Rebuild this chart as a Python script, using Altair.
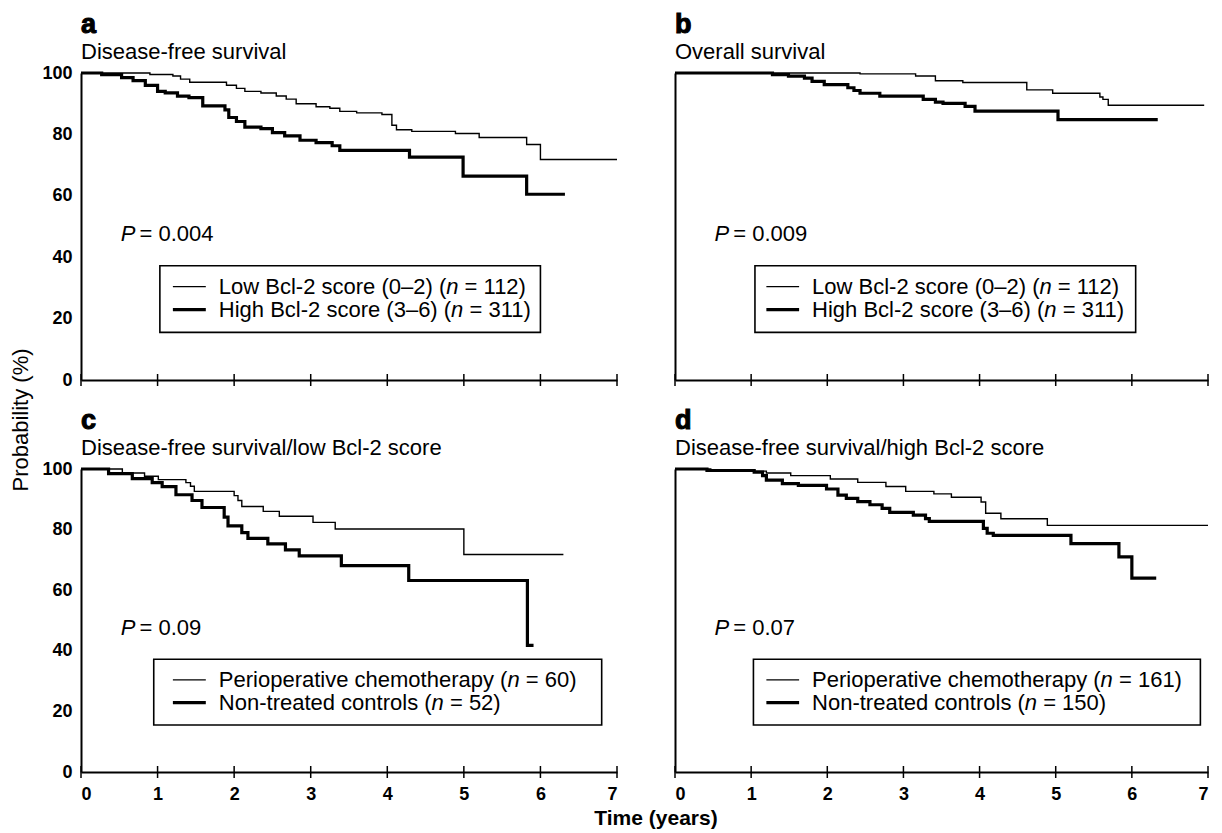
import altair as alt
import pandas as pd

FONT = "Liberation Sans"

YEAR_TICKS = [0, 1, 2, 3, 4, 5, 6, 7]
PROB_TICKS = [0, 20, 40, 60, 80, 100]

# ---- panel a: disease-free survival by Bcl-2 score ----
a_low_t = [0, 0.9, 1.2, 1.3, 1.42, 1.9, 2.03, 2.14, 2.35, 2.55, 2.68, 2.81, 3.07, 3.25, 3.38, 3.6, 3.93, 4.06, 4.12, 4.32, 4.89, 5.2, 5.82, 6.0, 7.0]
a_low_s = [100, 99.5, 99, 98, 97, 96, 95, 94, 93.5, 92.5, 91.5, 90, 89, 88.5, 87.5, 87, 86.5, 83, 81.5, 81, 80.3, 79, 76.7, 71.8, 71.8]
a_high_t = [0, 0.27, 0.53, 0.68, 0.84, 1.0, 1.1, 1.26, 1.41, 1.59, 1.88, 1.93, 2.03, 2.14, 2.35, 2.5, 2.66, 2.86, 3.07, 3.28, 3.38, 4.29, 4.99, 5.82, 6.32]
a_high_s = [100, 99.5, 98.5, 97.5, 96, 94, 93.5, 92.5, 92, 89.3, 88, 85.5, 84.2, 82.4, 81.9, 80.6, 79.5, 78.1, 77.3, 76.3, 74.8, 72.6, 66.4, 60.5, 60.5]

# ---- panel b: overall survival by Bcl-2 score ----
b_low_t = [0, 2.43, 3.16, 3.42, 3.78, 4.62, 4.96, 5.58, 5.62, 5.69, 6.95]
b_low_s = [100, 99.7, 99, 97.5, 96.9, 94.5, 93.4, 92.2, 91.4, 89.5, 89.5]
b_high_t = [0, 1.28, 1.49, 1.7, 1.8, 1.96, 2.27, 2.35, 2.43, 2.69, 3.26, 3.42, 3.52, 3.81, 3.94, 5.03, 6.34]
b_high_s = [100, 99.5, 99, 98.3, 97.3, 96.2, 95.2, 94.3, 93.4, 92.5, 91.4, 90.5, 90.1, 89.1, 87.6, 84.8, 84.8]

# ---- panel c: DFS, low Bcl-2 score ----
c_chemo_t = [0, 0.54, 0.83, 1.01, 1.37, 1.43, 1.48, 2.0, 2.05, 2.1, 2.38, 2.59, 3.03, 3.32, 5.0, 6.3]
c_chemo_s = [100, 98.7, 97.6, 96.5, 95.5, 94.3, 92.6, 91.2, 89.6, 87.6, 86, 84.4, 82.4, 80.2, 71.8, 71.8]
c_ctrl_t = [0, 0.36, 0.67, 0.93, 1.06, 1.24, 1.45, 1.58, 1.87, 1.92, 2.1, 2.18, 2.44, 2.67, 2.85, 3.4, 4.28, 5.83, 5.91]
c_ctrl_s = [100, 98.5, 96.8, 95.5, 94.2, 91.5, 89.6, 87.3, 84.1, 81.2, 79, 77.1, 75.3, 73.3, 71.3, 68.1, 63.2, 41.8, 41.8]

# ---- panel d: DFS, high Bcl-2 score ----
d_chemo_t = [0, 0.47, 1.04, 1.2, 1.52, 2.04, 2.4, 2.77, 3.03, 3.4, 3.63, 4.02, 4.08, 4.28, 4.89, 7.0]
d_chemo_s = [100, 99.7, 99.3, 98.7, 97.8, 96.7, 95.6, 94.2, 92.6, 91.8, 90.7, 89.1, 85.4, 83.6, 81.4, 81.4]
d_ctrl_t = [0, 0.42, 1.04, 1.15, 1.2, 1.41, 1.62, 1.99, 2.14, 2.25, 2.4, 2.56, 2.72, 2.82, 3.13, 3.29, 3.34, 4.05, 4.1, 4.18, 5.2, 5.83, 6.0, 6.32]
d_ctrl_s = [100, 99.5, 99, 97.8, 96.3, 95.2, 94.6, 93.4, 91.4, 90.3, 89.2, 88.2, 87, 85.7, 84.8, 83.6, 82.7, 80.4, 78.8, 78.1, 75.4, 71, 64, 64]

LETTERS = ["a", "b", "c", "d"]
SUBTITLES = ["Disease-free survival", "Overall survival",
             "Disease-free survival/low Bcl-2 score", "Disease-free survival/high Bcl-2 score"]
PVALUES = ["= 0.004", "= 0.009", "= 0.09", "= 0.07"]
LEGEND_LABELS = [
    ["Low Bcl-2 score (0\u20132) (", "High Bcl-2 score (3\u20136) ("],
    ["Low Bcl-2 score (0\u20132) (", "High Bcl-2 score (3\u20136) ("],
    ["Perioperative chemotherapy (", "Non-treated controls ("],
    ["Perioperative chemotherapy (", "Non-treated controls ("],
]
LEGEND_N = [["112", "311"], ["112", "311"], ["60", "52"], ["161", "150"]]
CURVES = [
    (a_low_t, a_low_s, a_high_t, a_high_s),
    (b_low_t, b_low_s, b_high_t, b_high_s),
    (c_chemo_t, c_chemo_s, c_ctrl_t, c_ctrl_s),
    (d_chemo_t, d_chemo_s, d_ctrl_t, d_ctrl_s),
]

# layout (styles / positions, not data)
BOX_X = [(1.03, 6.0), (1.05, 6.05), (0.95, 6.8), (1.03, 6.9)]
WIDTHS = [536, 533, 536, 533]
HEIGHTS = [307, 307, 303, 303]
FS = 22

ARIAL = {' ': 278, '(': 333, ')': 333, '-': 333, '\u2013': 556, '=': 584, '/': 278, '.': 278,
         '%': 889, 'P': 667, 'n': 556}
for ch in "0123456789":
    ARIAL[ch] = 556
for ch, w in zip("ABCDHLNOT", [667, 667, 722, 722, 722, 556, 722, 778, 611]):
    ARIAL[ch] = w
for ch, w in zip("abcdefghilmnoprstuvwy",
                 [556, 556, 500, 556, 556, 278, 556, 556, 222, 222, 833, 556, 556, 556, 333, 500, 278, 556, 500, 722, 500]):
    ARIAL[ch] = w


def tw(s, size):
    return sum(ARIAL.get(c, 556) for c in s) * size / 1000.0


one = pd.DataFrame({"k": [0]})


def panel(i):
    W, H = WIDTHS[i], HEIGHTS[i]
    left = i in (0, 2)
    bottom = i in (2, 3)
    xs = alt.Scale(domain=[0, 7], nice=False, zero=False)
    ys = alt.Scale(domain=[0, 100], nice=False)
    thin_t, thin_s, thick_t, thick_s = CURVES[i]

    xaxis = alt.Axis(values=YEAR_TICKS, ticks=False, labels=bottom, grid=False, title=None,
                     domainColor="black", domainWidth=2, labelColor="black",
                     labelFont=FONT, labelFontSize=18, labelFontWeight="bold",
                     labelPadding=13, format="d", orient="bottom")
    yaxis = alt.Axis(values=PROB_TICKS, ticks=False, labels=left, grid=False, title=None,
                     domainColor="black", domainWidth=2, labelColor="black",
                     labelFont=FONT, labelFontSize=18, labelFontWeight="bold",
                     labelPadding=9, format="d", orient="left")

    def X(field=None, datum=None):
        if datum is not None:
            return alt.X(datum=datum, type="quantitative", scale=xs, axis=xaxis)
        return alt.X(field, type="quantitative", scale=xs, axis=xaxis)

    def Y(field=None, datum=None):
        if datum is not None:
            return alt.Y(datum=datum, type="quantitative", scale=ys, axis=yaxis)
        return alt.Y(field, type="quantitative", scale=ys, axis=yaxis)

    thin = alt.Chart(pd.DataFrame({"t": thin_t, "s": thin_s})).mark_line(
        interpolate="step-after", color="black", strokeWidth=1.4
    ).encode(x=X("t"), y=Y("s"))
    thick = alt.Chart(pd.DataFrame({"t": thick_t, "s": thick_s})).mark_line(
        interpolate="step-after", color="black", strokeWidth=3.2
    ).encode(x=X("t"), y=Y("s"))

    ticks = alt.Chart(pd.DataFrame({"t": YEAR_TICKS})).mark_rule(
        color="black", strokeWidth=1.5
    ).encode(x=X("t"), y=alt.value(H - 6), y2=alt.value(H + 6))

    base = alt.Chart(one)
    bx0, bx1 = BOX_X[i]
    box = base.mark_rect(fill="white", stroke="black", strokeWidth=1.6).encode(
        x=X(datum=bx0), x2=alt.X2(datum=bx1), y=Y(datum=15.5), y2=alt.Y2(datum=37.2))

    layers = [thin, thick, ticks, box]
    rows_y = [30.4, 22.9]
    for r in range(2):
        sw = 1.4 if r == 0 else 3.2
        layers.append(base.mark_rule(color="black", strokeWidth=sw).encode(
            x=X(datum=1.2), x2=alt.X2(datum=1.63), y=Y(datum=rows_y[r])))
        pre = LEGEND_LABELS[i][r]
        post = "= " + LEGEND_N[i][r] + ")"
        d1 = tw(pre, FS)
        d2 = d1 + tw("n", FS) + tw(" ", FS)
        segs = [(pre, "normal", 0.0), ("n", "italic", d1), (post, "normal", d2)]
        for txt, style, dx in segs:
            layers.append(base.mark_text(
                align="left", baseline="middle", font=FONT, fontSize=FS, fontStyle=style,
                color="black", dx=dx
            ).encode(x=X(datum=1.8), y=Y(datum=rows_y[r]), text=alt.value(txt)))

    # P value
    layers.append(base.mark_text(align="left", baseline="middle", font=FONT, fontSize=FS,
                                 fontStyle="italic", color="black").encode(
        x=X(datum=0.52), y=Y(datum=47.4), text=alt.value("P")))
    layers.append(base.mark_text(align="left", baseline="middle", font=FONT, fontSize=FS,
                                 color="black", dx=tw("P", FS) + 4).encode(
        x=X(datum=0.52), y=Y(datum=47.4), text=alt.value(PVALUES[i])))

    # panel letter and subtitle
    layers.append(base.mark_text(align="left", baseline="alphabetic", font=FONT, fontSize=27,
                                 fontWeight="bold", color="black", stroke="black",
                                 strokeWidth=1.1).encode(
        x=alt.value(0), y=alt.value(-40), text=alt.value(LETTERS[i])))
    layers.append(base.mark_text(align="left", baseline="alphabetic", font=FONT, fontSize=FS,
                                 color="black").encode(
        x=alt.value(0), y=alt.value(-14), text=alt.value(SUBTITLES[i])))

    if i == 2:
        layers.append(base.mark_text(align="center", baseline="middle", font=FONT, fontSize=FS,
                                     angle=270, color="black").encode(
            x=alt.value(-60), y=alt.value(-49), text=alt.value("Probability (%)")))
        layers.append(base.mark_text(align="center", baseline="middle", font=FONT, fontSize=21,
                                     fontWeight="bold", color="black").encode(
            x=alt.value(575), y=alt.value(H + 47), text=alt.value("Time (years)")))

    return alt.layer(*layers).properties(width=W, height=H)


chart = alt.concat(panel(0), panel(1), panel(2), panel(3), columns=2,
                   spacing={"row": 89, "column": 58}, bounds="flush").configure_view(
    stroke=None
).properties(padding={"left": 1, "top": 3, "right": 0, "bottom": 0}, background="white")

chart.save("out.html", embed_options={"renderer": "svg", "actions": False})
